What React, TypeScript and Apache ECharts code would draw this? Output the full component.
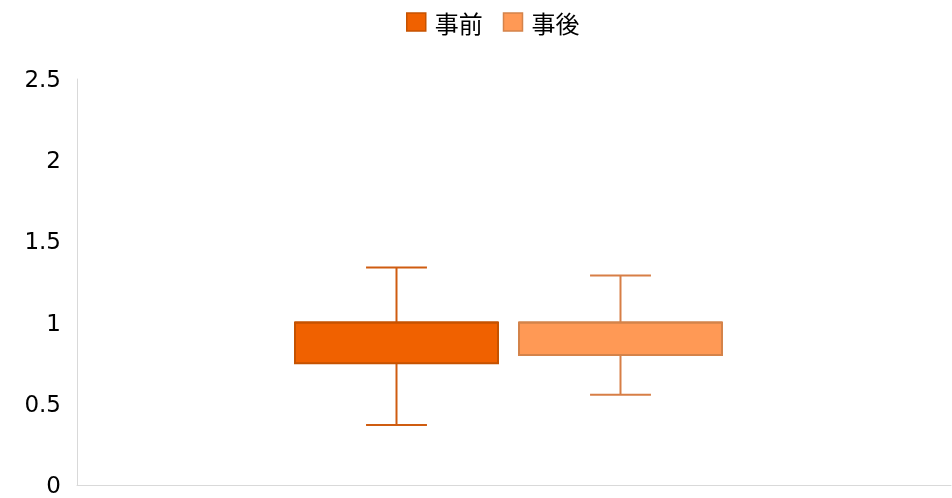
import React, { useEffect, useRef } from "react";
import * as echarts from "echarts";

const seriesNames = ["事前", "事後"];
// [categoryIndex, min, Q1, median, Q3, max]
const beforeValues = [[0, 0.37, 0.75, 1.0, 1.0, 1.34]];
const afterValues = [[0, 0.555, 0.8, 1.0, 1.0, 1.29]];
const categories = [""];
const yTicks = { min: 0, max: 2.5, interval: 0.5 };

const fills = ["#F06100", "#FF9955"];
const borders = ["#C55200", "#D4834A"];
const whiskers = ["#CF5C10", "#D77E46"];

function makeRender(offsetFrac: number, widthFrac: number, idx: number) {
  return (params: any, api: any) => {
    const band = api.size([1, 0])[0];
    const c = api.value(0);
    const cx = api.coord([c, 0])[0] + band * offsetFrac;
    const w = band * widthFrac;
    const yMin = api.coord([c, api.value(1)])[1];
    const yQ1 = api.coord([c, api.value(2)])[1];
    const yMed = api.coord([c, api.value(3)])[1];
    const yQ3 = api.coord([c, api.value(4)])[1];
    const yMax = api.coord([c, api.value(5)])[1];
    const cap = w * 0.3;
    const ws = { stroke: whiskers[idx], lineWidth: 2 };
    return {
      type: "group",
      children: [
        { type: "line", shape: { x1: cx, y1: yMax, x2: cx, y2: yQ3 }, style: ws },
        { type: "line", shape: { x1: cx, y1: yQ1, x2: cx, y2: yMin }, style: ws },
        { type: "line", shape: { x1: cx - cap / 2, y1: yMax, x2: cx + cap / 2, y2: yMax }, style: ws },
        { type: "line", shape: { x1: cx - cap / 2, y1: yMin, x2: cx + cap / 2, y2: yMin }, style: ws },
        {
          type: "rect",
          shape: { x: cx - w / 2, y: yQ3, width: w, height: yQ1 - yQ3 },
          style: { fill: fills[idx], stroke: borders[idx], lineWidth: 2 },
        },
        {
          type: "line",
          shape: { x1: cx - w / 2, y1: yMed, x2: cx + w / 2, y2: yMed },
          style: { stroke: borders[idx], lineWidth: 2 },
        },
      ],
    };
  };
}

export default function App() {
  const ref = useRef<HTMLDivElement>(null);
  useEffect(() => {
    if (!ref.current) return;
    const chart = echarts.init(ref.current, undefined, { renderer: "svg" });
    chart.setOption({
      animation: false,
      legend: {
        top: 5,
        left: 401,
        itemWidth: 19,
        itemHeight: 18,
        itemGap: 20,
        textStyle: {
          fontFamily: "'Noto Sans CJK JP', sans-serif",
          fontSize: 24,
          color: "#000",
          padding: [0, 0, 0, 4],
        },
        data: seriesNames.map((n, i) => ({
          name: n,
          icon: "rect",
          itemStyle: { color: fills[i], borderColor: borders[i], borderWidth: 1.5 },
        })),
      },
      grid: { left: 77, right: 1, top: 79, bottom: 13 },
      xAxis: {
        type: "category",
        data: categories,
        axisLine: { show: true, lineStyle: { color: "#d9d9d9", width: 1 } },
        axisTick: { show: false },
        axisLabel: { show: false },
        splitLine: { show: false },
      },
      yAxis: {
        type: "value",
        min: yTicks.min,
        max: yTicks.max,
        interval: yTicks.interval,
        axisLine: { show: true, lineStyle: { color: "#d9d9d9", width: 1 } },
        axisTick: { show: false },
        splitLine: { show: false },
        axisLabel: {
          fontFamily: "'DejaVu Sans', Verdana, sans-serif",
          fontSize: 23,
          lineHeight: 20,
          color: "#000",
          margin: 16,
        },
      },
      series: [
        {
          name: seriesNames[0],
          type: "custom",
          data: beforeValues,
          itemStyle: { color: fills[0] },
          encode: { x: 0, y: [1, 2, 3, 4, 5] },
          renderItem: makeRender(-117.5 / 874, 203 / 874, 0),
        },
        {
          name: seriesNames[1],
          type: "custom",
          data: afterValues,
          itemStyle: { color: fills[1] },
          encode: { x: 0, y: [1, 2, 3, 4, 5] },
          renderItem: makeRender(106.5 / 874, 203 / 874, 1),
        },
      ],
    });
    return () => chart.dispose();
  }, []);
  return (
    <div
      ref={ref}
      style={{ position: "fixed", left: 0, top: 0, width: 952, height: 498 }}
    />
  );
}
